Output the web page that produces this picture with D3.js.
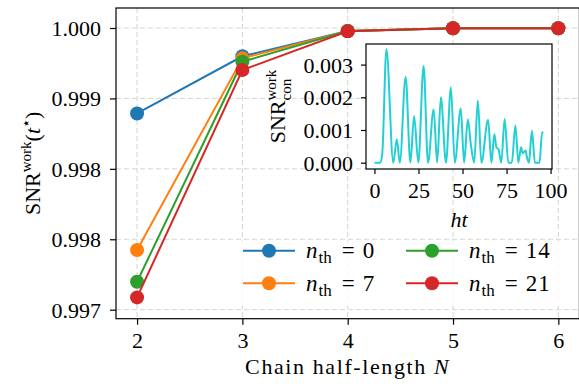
<!DOCTYPE html>
<html>
<head>
<meta charset="utf-8">
<script src="https://cdn.jsdelivr.net/npm/d3@7"></script>
<style>
body { margin: 0; background: #fff; }
svg { display: block; font-family: "Liberation Serif", "DejaVu Serif", serif; }
</style>
</head>
<body>
<script>
// Main panel: SNR^work(t*) against chain half-length N
var chainN = [2, 3, 4, 5, 6];
var snr_n0  = [0.99909, 0.999699, 0.999968, 0.999997, 0.999997];
var snr_n7  = [0.997635, 0.999677, 0.999968, 0.999997, 0.999997];
var snr_n14 = [0.997297, 0.999641, 0.999968, 0.999997, 0.999997];
var snr_n21 = [0.997131, 0.999553, 0.999966, 0.999997, 0.999997];
var nthLabels = ["0", "7", "14", "21"];

var yTickValues = [0.997, 0.99775, 0.9985, 0.99925, 1.0];
var yTickLabels = ["0.997", "0.998", "0.998", "0.999", "1.000"];

// Inset: SNR^work_con against ht
var inset_ht  = [0, 3.2, 4.4, 6.8, 10.7, 12.7, 14.4, 17.7, 20.4, 22.5, 24.9, 27.9, 30.4, 33.6, 35.6, 37.7,
                 40.6, 43.4, 45.6, 49.0, 50.9, 53.0, 54.7, 56.6, 58.7, 60.7, 64.5, 66.4, 68.1, 69.2, 70.4,
                 72.0, 73.9, 76.0, 78.0, 80.0, 81.7, 83.2, 84.1, 85.8, 86.6, 87.7, 89.4, 91.1, 93.7, 95.2, 95.8];
var inset_snr = [0, 0, 0.00025, 0.00347, 0, 0.00072, 0, 0.00263, 0, 0.00143, 0, 0.00296, 0, 0.00163, 0, 0.00200,
                 0, 0.00231, 0, 0.00166, 0, 0.00133, 0.00057, 0, 0.00190, 0, 0.00131, 0, 0.00088, 0.00047, 0.00041,
                 0, 0.00134, 0, 0, 0.00114, 0, 0.00047, 0.00029, 0.00037, 0.00016, 0, 0.00098, 0, 0, 0.00093, 0.00091];
var insetXTicks = [0, 25, 50, 75, 100];
var insetYTicks = [0, 0.001, 0.002, 0.003];

var colors = ["#1f77b4", "#ff7f0e", "#2ca02c", "#d62728"];
var insetColor = "#22d0d4";
var gridColor = "#d4d4d4";

var W = 579, H = 384;
var svg = d3.select("body").append("svg")
    .attr("width", W)
    .attr("height", H);

// helper for measuring text widths
function measure(str, size, style) {
    var t = svg.append("text").attr("font-size", size).attr("font-style", style || "normal").text(str);
    var w = t.node().getComputedTextLength();
    t.remove();
    return w;
}

// Scales
var plot = {left: 116, right: 579.4, top: 8, bottom: 318.7};
var xScale = d3.scaleLinear()
    .domain([1.8, 6.2])
    .range([plot.left, plot.right]);
var yScale = d3.scaleLinear()
    .domain([0.996904, 1.000213])
    .range([plot.bottom, plot.top]);

// Grid
var grid = svg.append("g");
grid.selectAll(".vg").data(chainN).enter().append("line")
    .attr("x1", d => xScale(d)).attr("x2", d => xScale(d))
    .attr("y1", plot.top).attr("y2", plot.bottom)
    .attr("stroke", gridColor).attr("stroke-width", 1).attr("stroke-dasharray", "5,3");
grid.selectAll(".hg").data(yTickValues).enter().append("line")
    .attr("x1", plot.left).attr("x2", plot.right)
    .attr("y1", d => yScale(d)).attr("y2", d => yScale(d))
    .attr("stroke", gridColor).attr("stroke-width", 1).attr("stroke-dasharray", "5,3");

function styleAxis(a) {
    a.attr("font-family", null).attr("font-size", null);
    a.select(".domain").remove();
    a.selectAll("line").attr("stroke", "#000").attr("stroke-width", 1.2);
    a.selectAll("text").attr("font-size", 22).attr("fill", "#000");
}

// Axes
var xAxis = svg.append("g")
    .attr("transform", "translate(0," + plot.bottom + ")")
    .call(d3.axisBottom(xScale).tickValues(chainN).tickFormat(d3.format("d")).tickSize(6).tickPadding(8));
var yAxis = svg.append("g")
    .attr("transform", "translate(" + plot.left + ",0)")
    .call(d3.axisLeft(yScale).tickValues(yTickValues).tickFormat((d, i) => yTickLabels[i]).tickSize(6).tickPadding(9));
styleAxis(xAxis);
styleAxis(yAxis);
yAxis.selectAll("text").attr("dy", "0.34em");

// Spines
svg.append("rect")
    .attr("x", plot.left).attr("y", plot.top)
    .attr("width", plot.right - plot.left).attr("height", plot.bottom - plot.top)
    .attr("fill", "none").attr("stroke", "#000").attr("stroke-width", 1.2);

// Series
var series = [snr_n0, snr_n7, snr_n14, snr_n21];
var line = d3.line()
    .x((d, i) => xScale(chainN[i]))
    .y(d => yScale(d));
series.forEach(function(vals, k) {
    svg.append("path")
        .datum(vals)
        .attr("d", line)
        .attr("fill", "none")
        .attr("stroke", colors[k])
        .attr("stroke-width", 2);
    svg.selectAll(".dot" + k)
        .data(vals)
      .enter().append("circle")
        .attr("cx", (d, i) => xScale(chainN[i]))
        .attr("cy", d => yScale(d))
        .attr("r", 7)
        .attr("fill", colors[k]);
});

// Axis labels
var xl = svg.append("text")
    .attr("x", (plot.left + plot.right) / 2).attr("y", 374)
    .attr("text-anchor", "middle").attr("font-size", 22).attr("letter-spacing", 1.6);
xl.append("tspan").text("Chain half-length ");
xl.append("tspan").attr("font-style", "italic").text("N");

var yl = svg.append("text")
    .attr("transform", "translate(40," + ((plot.top + plot.bottom) / 2) + ") rotate(-90)")
    .attr("text-anchor", "middle").attr("font-size", 22);
yl.append("tspan").text("SNR");
yl.append("tspan").attr("font-size", 15).attr("dy", -9).text("work");
yl.append("tspan").attr("font-size", 22).attr("dy", 9).text("(");
yl.append("tspan").attr("font-style", "italic").text("t");
yl.append("tspan").attr("font-size", 15).attr("dy", -9).text("\u22C6");
yl.append("tspan").attr("font-size", 22).attr("dy", 9).text(")");

// Legend
var legend = svg.append("g");
legend.append("rect")
    .attr("x", 236).attr("y", 241).attr("width", 334).attr("height", 65).attr("rx", 4)
    .attr("fill", "#fff").attr("fill-opacity", 0.8);
var legCols = [243, 406], legRows = [250.7, 283.3];
nthLabels.forEach(function(lab, k) {
    var cx = legCols[Math.floor(k / 2)], cy = legRows[k % 2];
    legend.append("line")
        .attr("x1", cx).attr("x2", cx + 52).attr("y1", cy).attr("y2", cy)
        .attr("stroke", colors[k]).attr("stroke-width", 2);
    legend.append("circle").attr("cx", cx + 26).attr("cy", cy).attr("r", 7).attr("fill", colors[k]);
    var t = legend.append("text").attr("x", cx + 63).attr("y", cy + 7.5).attr("font-size", 23);
    t.append("tspan").attr("font-style", "italic").text("n");
    t.append("tspan").attr("font-size", 17).attr("dy", 5).attr("dx", 1).text("th");
    t.append("tspan").attr("font-size", 23).attr("dy", -5).attr("dx", 10).text("=");
    t.append("tspan").attr("dx", 8).attr("letter-spacing", 1).text(lab);
});

// Inset
var inset = {left: 366, right: 552, top: 44, bottom: 169};
var ix = d3.scaleLinear().domain([-4.8, 100.8]).range([inset.left, inset.right]);
var iy = d3.scaleLinear().domain([-0.000193, 0.00363]).range([inset.bottom, inset.top]);

svg.append("rect")
    .attr("x", inset.left).attr("y", inset.top)
    .attr("width", inset.right - inset.left).attr("height", inset.bottom - inset.top)
    .attr("fill", "#fff");

var insetLine = d3.line()
    .x((d, i) => ix(inset_ht[i]))
    .y(d => iy(d))
    .curve(d3.curveMonotoneX);
svg.append("path")
    .datum(inset_snr)
    .attr("d", insetLine)
    .attr("fill", "none")
    .attr("stroke", insetColor)
    .attr("stroke-width", 2);

var ixAxis = svg.append("g")
    .attr("transform", "translate(0," + inset.bottom + ")")
    .call(d3.axisBottom(ix).tickValues(insetXTicks).tickFormat(d3.format("d")).tickSize(5).tickPadding(8));
var iyAxis = svg.append("g")
    .attr("transform", "translate(" + inset.left + ",0)")
    .call(d3.axisLeft(iy).tickValues(insetYTicks).tickFormat(d3.format(".3f")).tickSize(5).tickPadding(8));
styleAxis(ixAxis);
styleAxis(iyAxis);
iyAxis.selectAll("text").attr("dy", "0.34em");

svg.append("rect")
    .attr("x", inset.left).attr("y", inset.top)
    .attr("width", inset.right - inset.left).attr("height", inset.bottom - inset.top)
    .attr("fill", "none").attr("stroke", "#000").attr("stroke-width", 1.2);

svg.append("text")
    .attr("x", (inset.left + inset.right) / 2).attr("y", 227)
    .attr("text-anchor", "middle").attr("font-size", 22).attr("font-style", "italic")
    .text("ht");

// inset y label with stacked super/subscript
var wSNR = measure("SNR", 22), wWork = measure("work", 15), wCon = measure("con", 15);
var total = wSNR + Math.max(wWork, wCon);
var il = svg.append("text")
    .attr("transform", "translate(285," + ((inset.top + inset.bottom) / 2) + ") rotate(-90)")
    .attr("font-size", 22);
il.append("tspan").attr("x", -total / 2).attr("y", 0).text("SNR");
il.append("tspan").attr("x", -total / 2 + wSNR).attr("y", -9).attr("font-size", 15).text("work");
il.append("tspan").attr("x", -total / 2 + wSNR).attr("y", 6).attr("font-size", 15).text("con");
</script>
</body>
</html>
